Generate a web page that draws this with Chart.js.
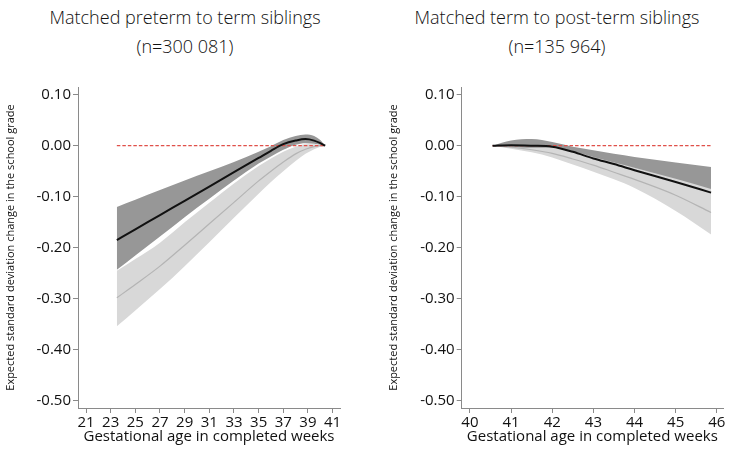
<!DOCTYPE html>
<html>
<head>
<meta charset="utf-8">
<script src="https://cdn.jsdelivr.net/npm/chart.js@4"></script>
<style>
  html, body { margin: 0; padding: 0; background: #fff; }
  #wrap { position: relative; width: 734px; height: 452px; overflow: hidden; }
  canvas { position: absolute; top: 0; }
  .ttl { position: absolute; text-align: center; font-family: "Open Sans", sans-serif; font-weight: 300;
         font-size: 18px; line-height: 29px; color: #111; white-space: nowrap; }
</style>
</head>
<body>
<div id="wrap">
  <div class="ttl" style="left:35px; width:300px; top:3px;">Matched preterm to term siblings<br>(n=300 081)</div>
  <div class="ttl" style="left:382px; width:350px; top:3px;">Matched term to post-term siblings<br>(n=135 964)</div>
  <canvas id="left-chart" width="367" height="452" style="left:0"></canvas>
  <canvas id="right-chart" width="367" height="452" style="left:367px"></canvas>
</div>
<script>
// ---- data ----
const yTicks = [-0.5, -0.4, -0.3, -0.2, -0.1, 0, 0.1];

// left panel: preterm vs term
const preWeeks     = [23.5, 25, 27, 29, 31, 33, 35, 36, 37, 38, 38.8, 39.5, 40, 40.4];
const preLine      = [-0.185, -0.164, -0.136, -0.108, -0.080, -0.052, -0.024, -0.010, 0.003, 0.010, 0.013, 0.010, 0.005, 0];
const preDarkHi    = [-0.120, -0.106, -0.087, -0.068, -0.050, -0.032, -0.012, -0.001, 0.011, 0.019, 0.022, 0.019, 0.011, 0];
const preDarkLo    = [-0.243, -0.215, -0.178, -0.140, -0.104, -0.068, -0.035, -0.021, -0.008, 0.002, 0.005, 0.004, 0.002, 0];
const preGreyLine  = [-0.298, -0.272, -0.236, -0.195, -0.153, -0.111, -0.069, -0.050, -0.032, -0.016, -0.007, -0.002, 0.000, 0];
const preLightHi   = [-0.245, -0.222, -0.190, -0.150, -0.112, -0.074, -0.040, -0.025, -0.012, -0.002, 0.003, 0.003, 0.001, 0];
const preLightLo   = [-0.354, -0.323, -0.281, -0.236, -0.189, -0.141, -0.094, -0.071, -0.050, -0.030, -0.016, -0.007, -0.002, 0];
const preXTicks    = [21, 23, 25, 27, 29, 31, 33, 35, 37, 39, 41];

// right panel: term vs post-term
const postWeeks    = [40.55, 41, 41.5, 42, 42.5, 43, 43.5, 44, 45, 45.86];
const postLine     = [0, 0.001, 0.000, -0.002, -0.012, -0.025, -0.036, -0.048, -0.071, -0.092];
const postDarkHi   = [0, 0.010, 0.013, 0.007, -0.002, -0.009, -0.016, -0.022, -0.033, -0.042];
const postDarkLo   = [0, -0.002, -0.004, -0.004, -0.011, -0.022, -0.033, -0.043, -0.065, -0.085];
const postGreyLine = [0, -0.003, -0.008, -0.015, -0.026, -0.038, -0.052, -0.066, -0.097, -0.131];
const postLightHi  = [0, -0.001, -0.002, -0.004, -0.010, -0.020, -0.030, -0.041, -0.063, -0.082];
const postLightLo  = [0, -0.006, -0.013, -0.023, -0.037, -0.051, -0.066, -0.083, -0.128, -0.174];
const postXTicks   = [40, 41, 42, 43, 44, 45, 46];

const AXIS = '#8a8a8a';
const FONT = '"Open Sans", sans-serif';

const pts = (xs, ys) => xs.map((x, i) => ({ x, y: ys[i] }));

function makeChart(id, weeks, s, xTicks, xMin, xMax, padLeft, padRight) {
  const smooth = { pointRadius: 0, cubicInterpolationMode: 'monotone', tension: 0.4 };
  const clear = 'rgba(0,0,0,0)';
  return new Chart(document.getElementById(id), {
    type: 'line',
    data: {
      datasets: [
        { data: pts(weeks, s.line), borderColor: '#111', borderWidth: 2, fill: false, order: 0, ...smooth },
        { data: pts([weeks[0], weeks[weeks.length - 1]], [0, 0]), borderColor: '#e0504a', borderWidth: 1.3,
          borderDash: [3.5, 2], pointRadius: 0, fill: false, order: 1 },
        { data: pts(weeks, s.grey), borderColor: '#b4b4b4', borderWidth: 1.2, fill: false, order: 2, ...smooth },
        { data: pts(weeks, s.darkHi), borderWidth: 0, borderColor: clear, backgroundColor: '#979797',
          fill: '+1', order: 3, ...smooth },
        { data: pts(weeks, s.darkLo), borderWidth: 0, borderColor: clear, fill: false, order: 4, ...smooth },
        { data: pts(weeks, s.lightHi), borderWidth: 0, borderColor: clear, backgroundColor: '#d8d8d8',
          fill: '+1', order: 5, ...smooth },
        { data: pts(weeks, s.lightLo), borderWidth: 0, borderColor: clear, fill: false, order: 6, ...smooth },
      ],
    },
    options: {
      responsive: false,
      animation: false,
      layout: { padding: { left: padLeft, right: padRight, top: 87, bottom: 0 } },
      plugins: { legend: { display: false }, tooltip: { enabled: false } },
      scales: {
        x: {
          type: 'linear', min: xMin, max: xMax,
          afterBuildTicks: sc => { sc.ticks = xTicks.map(v => ({ value: v })); },
          afterFit: sc => { sc.height = 44; },
          border: { display: true, color: AXIS, width: 1 },
          grid: { display: true, drawOnChartArea: false, drawTicks: true, tickLength: 5, color: AXIS },
          ticks: { color: '#111', font: { family: FONT, size: 15 }, padding: 1, maxRotation: 0, autoSkip: false },
          title: { display: true, text: 'Gestational age in completed weeks', color: '#111',
                   font: { family: FONT, size: 15 }, padding: { top: 0, bottom: 6 } },
        },
        y: {
          type: 'linear', min: -0.514, max: 0.115,
          afterBuildTicks: sc => { sc.ticks = yTicks.map(v => ({ value: v })); },
          afterFit: sc => { sc.width = 74; },
          border: { display: true, color: AXIS, width: 1 },
          grid: { display: true, drawOnChartArea: false, drawTicks: true, tickLength: 5, color: AXIS },
          ticks: { color: '#111', font: { family: FONT, size: 15 }, padding: 2,
                   callback: v => v.toFixed(2) },
          title: { display: true, text: 'Expected standard deviation change in the school grade', color: '#111',
                   font: { family: FONT, size: 11 }, padding: 0 },
        },
      },
    },
  });
}

makeChart('left-chart', preWeeks,
  { line: preLine, grey: preGreyLine, darkHi: preDarkHi, darkLo: preDarkLo, lightHi: preLightHi, lightLo: preLightLo },
  preXTicks, 20.35, 41.6, 4, 27);

makeChart('right-chart', postWeeks,
  { line: postLine, grey: postGreyLine, darkHi: postDarkHi, darkLo: postDarkLo, lightHi: postLightHi, lightLo: postLightLo },
  postXTicks, 39.8, 46.15, 20.7, 11);
</script>
</body>
</html>
